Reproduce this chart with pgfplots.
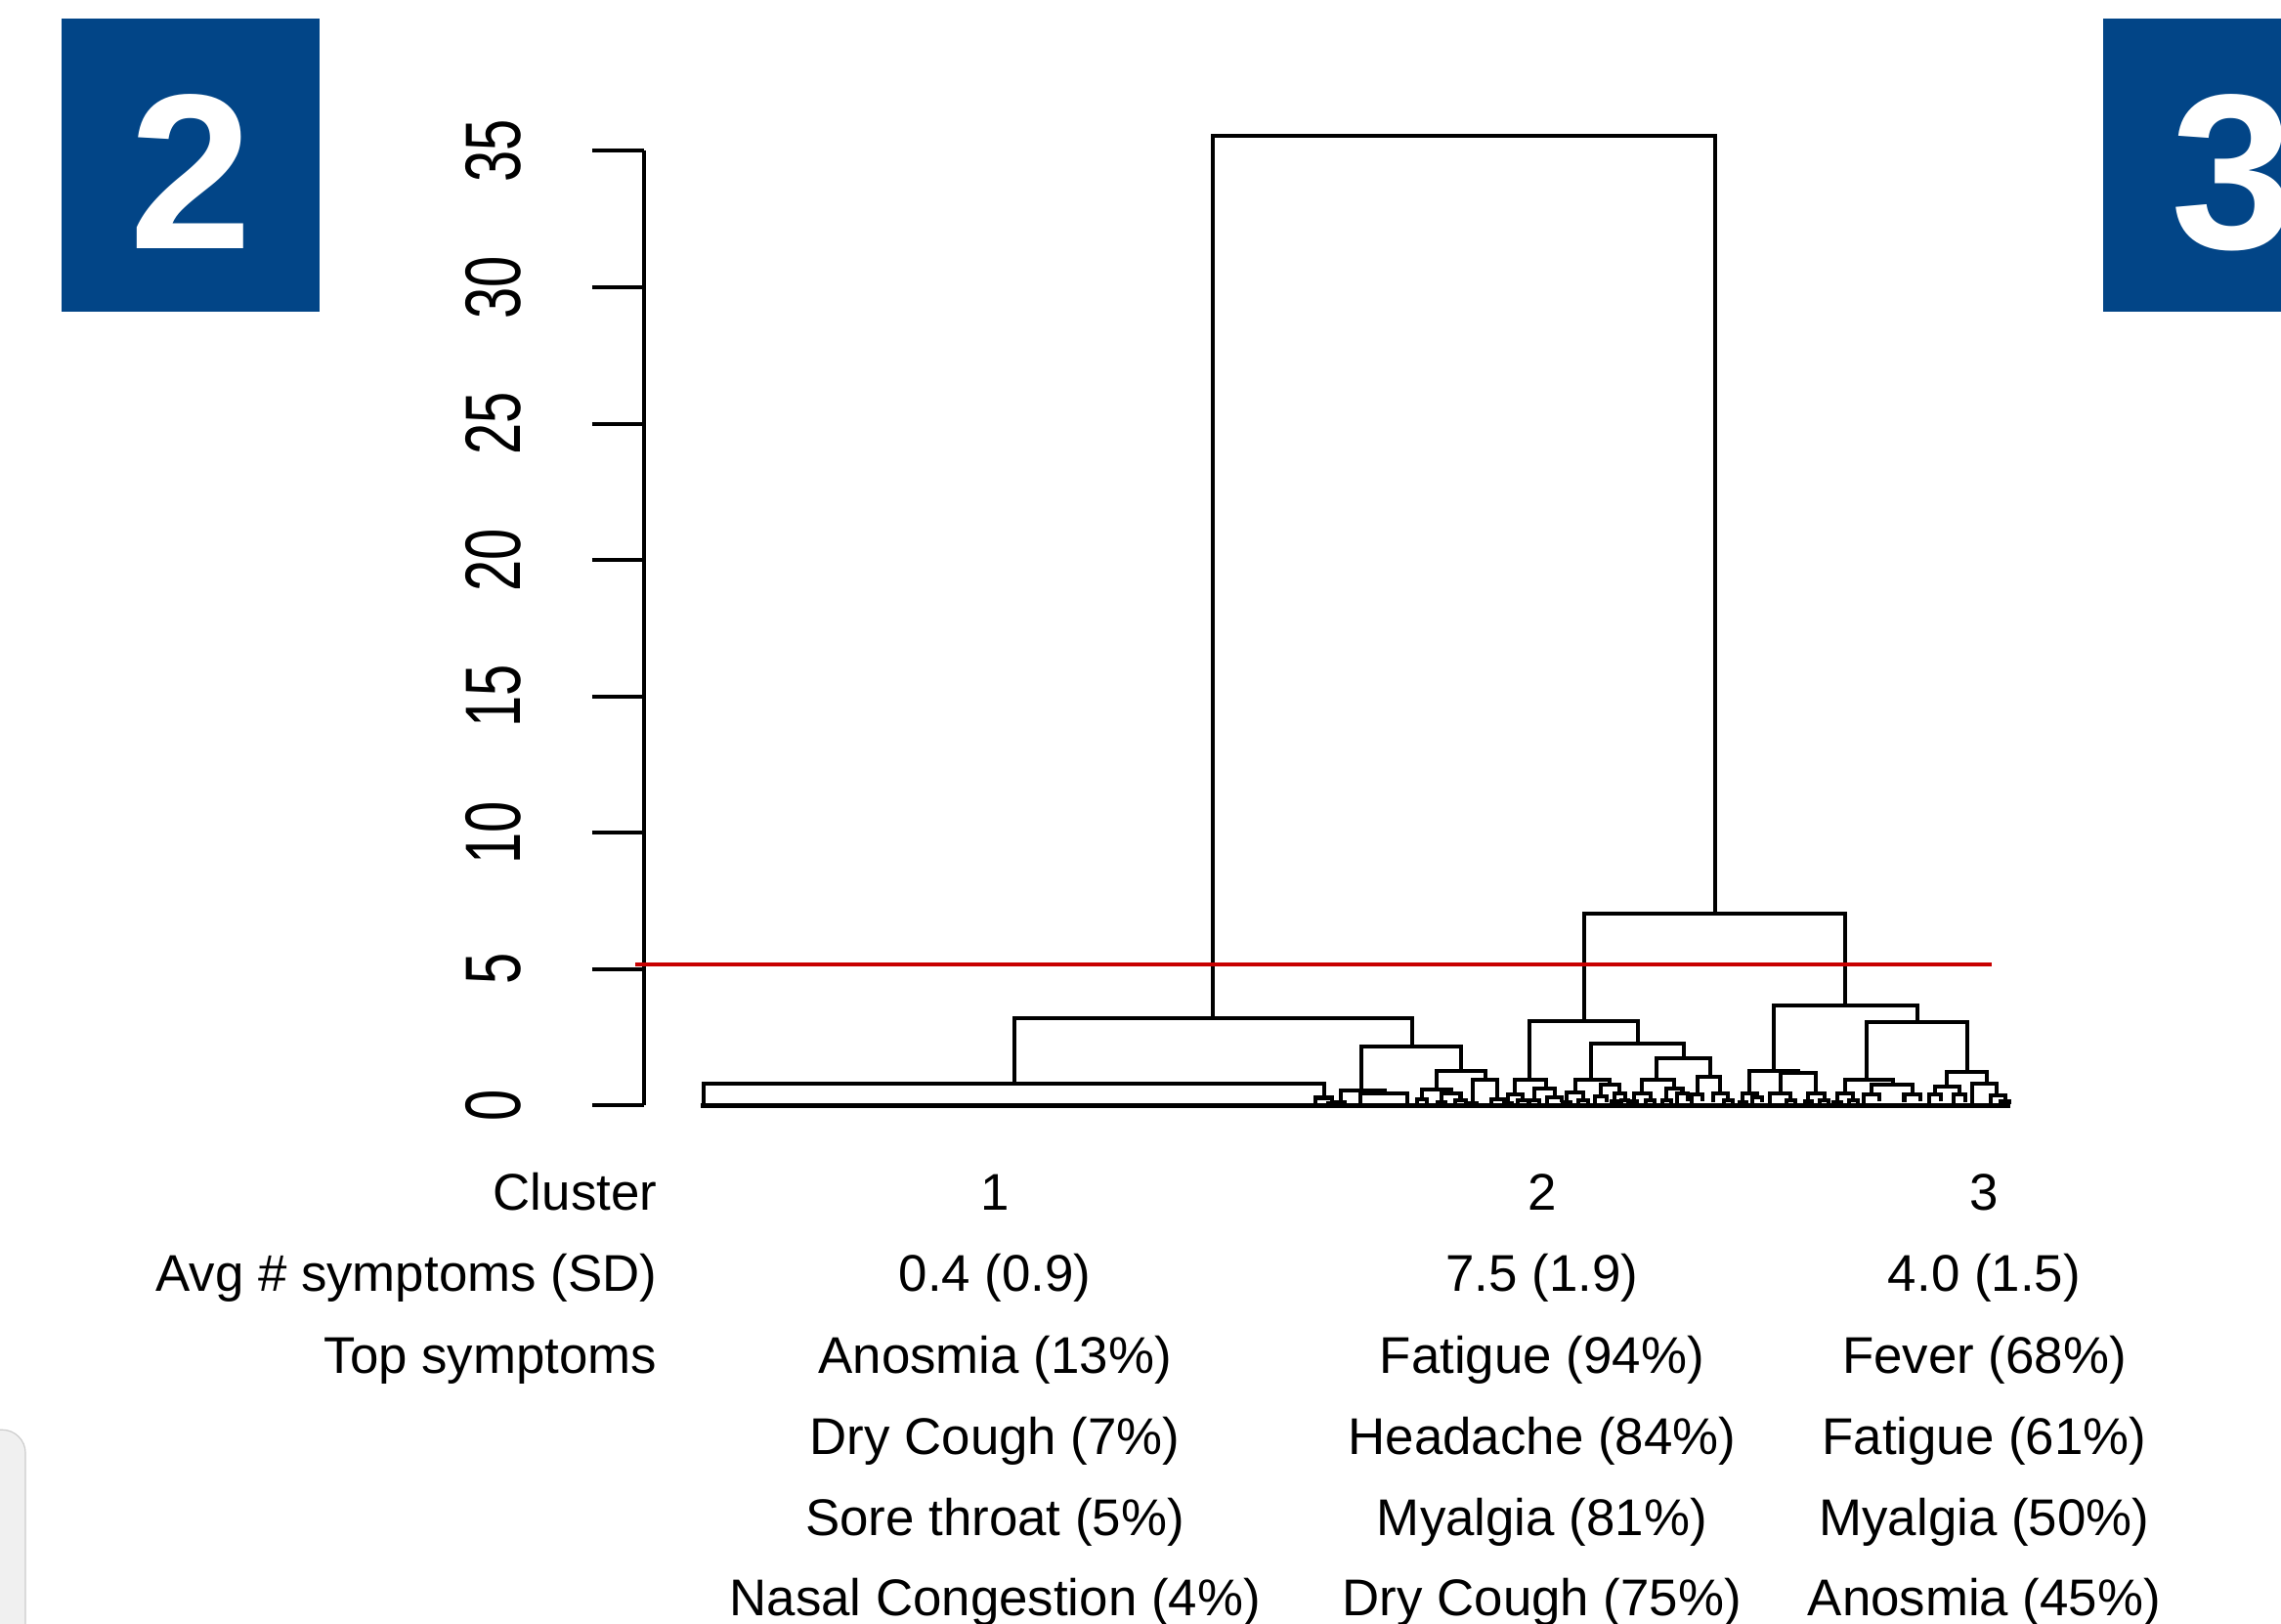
\documentclass[border=0pt]{standalone}
\usepackage{pgfplots}
\pgfplotsset{compat=1.18}
\usepackage{fontspec}
\setmainfont{Liberation Sans}
\newfontfamily\tickfont{Liberation Sans}[FakeStretch=0.72]
\definecolor{boxblue}{RGB}{2,69,135}
\definecolor{cutred}{RGB}{200,0,0}
\begin{document}
\begin{tikzpicture}
\useasboundingbox (0,0) rectangle (784pt,-558pt);
\begin{scope}[x=0.5pt,y=-0.5pt]
  % panel badges
  \fill[boxblue] (42,13) rectangle (220,214);
  \node[anchor=base,inner sep=0,text=white,font=\fontsize{76pt}{80pt}\selectfont\bfseries] at (131,171) {2};
  \fill[boxblue] (1446,13) rectangle (1600,214);
  \node[anchor=base west,inner sep=0,text=white,font=\fontsize{76pt}{80pt}\selectfont\bfseries] at (1492,171) {3};
  \draw[fill=black!6,draw=black!20,rounded corners=8pt] (-30,983) rectangle (17.5,1140);
\end{scope}
\begin{axis}[
  at={(221.5pt,-380pt)}, anchor=south west,
  scale only axis, width=478.5pt, height=328.125pt,
  xmin=443, xmax=1400, ymin=0, ymax=35,
  enlargelimits=false, clip=false,
  axis y line*=left, axis x line=none,
  ytick={0,5,...,35},
  tick align=outside, major tick length=18pt,
  y axis line style={line width=1.35pt,-},
  every tick/.style={line width=1.35pt,black},
  /pgf/number format/assume math mode=true,
  yticklabel style={rotate=90, anchor=base, inner sep=0pt, yshift=24.5pt,
    font=\tickfont\fontsize{27pt}{30pt}\selectfont},
]
\addplot[black, line width=1.35pt, unbounded coords=jump] table {
x y
834 3.2
834 35.57
1179 35.57
1179 7.04
nan nan
697 0.79
697 3.2
970.8 3.2
970.8 2.17
nan nan
484 0
484 0.79
910 0.79
910 0.28
nan nan
904.5 0.05
904.5 0.28
915.5 0.28
915.5 0.1
nan nan
913 0
913 0.1
918 0.1
918 0
nan nan
936 0.54
936 2.17
1004.6 2.17
1004.6 1.26
nan nan
921.5 0.12
921.5 0.54
952 0.54
952 0.43
nan nan
918.5 0
918.5 0.12
924.5 0.12
924.5 0.04
nan nan
935 0.03
935 0.43
967.4 0.43
967.4 0.03
nan nan
987.6 0.57
987.6 1.26
1021.1 1.26
1021.1 0.93
nan nan
977.4 0.22
977.4 0.57
997.5 0.57
997.5 0.45
nan nan
974 0.05
974 0.22
981 0.22
981 0.1
nan nan
991 0.12
991 0.45
1004 0.45
1004 0.2
nan nan
988.5 0
988.5 0.12
993.5 0.12
993.5 0
nan nan
1000 0.05
1000 0.2
1008 0.2
1008 0.08
nan nan
1012.2 0.1
1012.2 0.93
1029.5 0.93
1029.5 0.22
nan nan
1009.5 0
1009.5 0.1
1015 0.1
1015 0
nan nan
1025 0.05
1025 0.22
1034 0.22
1034 0.1
nan nan
1088.8 3.1
1088.8 7.04
1268.6 7.04
1268.6 3.68
nan nan
1051.4 0.93
1051.4 3.1
1126.2 3.1
1126.2 2.26
nan nan
1041.3 0.39
1041.3 0.93
1062.6 0.93
1062.6 0.63
nan nan
1036.8 0.1
1036.8 0.39
1046.9 0.39
1046.9 0.18
nan nan
1034.5 0
1034.5 0.1
1039 0.1
1039 0
nan nan
1043.5 0.04
1043.5 0.18
1050.5 0.18
1050.5 0.08
nan nan
1054.7 0.2
1054.7 0.63
1068.6 0.63
1068.6 0.3
nan nan
1051.5 0.03
1051.5 0.2
1058 0.2
1058 0.1
nan nan
1063.5 0.08
1063.5 0.3
1073.5 0.3
1073.5 0.12
nan nan
1094 0.93
1094 2.26
1157.7 2.26
1157.7 1.72
nan nan
1082.7 0.49
1082.7 0.93
1106.3 0.93
1106.3 0.75
nan nan
1077.1 0.12
1077.1 0.49
1088.2 0.49
1088.2 0.2
nan nan
1074.5 0
1074.5 0.12
1079.5 0.12
1079.5 0.04
nan nan
1085 0.05
1085 0.2
1091.5 0.2
1091.5 0.1
nan nan
1100.7 0.33
1100.7 0.75
1113 0.75
1113 0.45
nan nan
1096.5 0.1
1096.5 0.33
1104.5 0.33
1104.5 0.12
nan nan
1109.5 0.15
1109.5 0.45
1117 0.45
1117 0.2
nan nan
1107.5 0
1107.5 0.15
1111.5 0.15
1111.5 0.03
nan nan
1114.5 0.05
1114.5 0.2
1119.5 0.2
1119.5 0.08
nan nan
1138.7 0.93
1138.7 1.72
1175.7 1.72
1175.7 1.05
nan nan
1128.6 0.45
1128.6 0.93
1151 0.93
1151 0.63
nan nan
1123 0.15
1123 0.45
1134.5 0.45
1134.5 0.2
nan nan
1121 0.03
1121 0.15
1125 0.15
1125 0.05
nan nan
1131.5 0.05
1131.5 0.2
1137.5 0.2
1137.5 0.08
nan nan
1145.5 0.2
1145.5 0.63
1156.5 0.63
1156.5 0.45
nan nan
1142.5 0.04
1142.5 0.2
1148.5 0.2
1148.5 0.08
nan nan
1153 0.1
1153 0.45
1160.5 0.45
1160.5 0.15
nan nan
1166.7 0.39
1166.7 1.05
1182.4 1.05
1182.4 0.45
nan nan
1163 0.1
1163 0.39
1170.5 0.39
1170.5 0.15
nan nan
1177.5 0.12
1177.5 0.45
1188 0.45
1188 0.2
nan nan
1185 0.04
1185 0.2
1191 0.2
1191 0.08
nan nan
1219.3 1.27
1219.3 3.68
1317.9 3.68
1317.9 3.05
nan nan
1202.5 0.45
1202.5 1.27
1236.1 1.27
1236.1 1.19
nan nan
1198 0.12
1198 0.45
1208 0.45
1208 0.3
nan nan
1195.5 0
1195.5 0.12
1200.5 0.12
1200.5 0.04
nan nan
1204.5 0.08
1204.5 0.3
1211.5 0.3
1211.5 0.12
nan nan
1223.8 0.45
1223.8 1.19
1248.4 1.19
1248.4 0.45
nan nan
1216.5 0.1
1216.5 0.45
1231 0.45
1231 0.2
nan nan
1228 0.04
1228 0.2
1234 0.2
1234 0.08
nan nan
1243 0.15
1243 0.45
1254 0.45
1254 0.2
nan nan
1240.5 0.03
1240.5 0.15
1245.5 0.15
1245.5 0.05
nan nan
1251 0.05
1251 0.2
1257 0.2
1257 0.08
nan nan
1283.1 0.93
1283.1 3.05
1352.1 3.05
1352.1 1.23
nan nan
1268.6 0.45
1268.6 0.93
1301 0.93
1301 0.75
nan nan
1263 0.12
1263 0.45
1274 0.45
1274 0.2
nan nan
1260.5 0
1260.5 0.12
1265.5 0.12
1265.5 0.03
nan nan
1271 0.05
1271 0.2
1277 0.2
1277 0.08
nan nan
1286.5 0.39
1286.5 0.75
1314.5 0.75
1314.5 0.39
nan nan
1281 0.1
1281 0.39
1292 0.39
1292 0.15
nan nan
1309 0.12
1309 0.39
1320 0.39
1320 0.15
nan nan
1338 0.69
1338 1.23
1365.6 1.23
1365.6 0.81
nan nan
1330.2 0.39
1330.2 0.69
1347 0.69
1347 0.39
nan nan
1326 0.1
1326 0.39
1334.5 0.39
1334.5 0.15
nan nan
1343 0.1
1343 0.39
1351 0.39
1351 0.12
nan nan
1355.9 0.1
1355.9 0.81
1372.7 0.81
1372.7 0.37
nan nan
1368.3 0.1
1368.3 0.37
1378.3 0.37
1378.3 0.15
nan nan
1375.5 0.03
1375.5 0.15
1381.5 0.15
1381.5 0.05
};
% leaves at zero height
\addplot[black, line width=1.8pt] coordinates {(482,0) (1382,0)};
% cut line
\addplot[cutred, line width=1.3pt] coordinates {(437,5.17) (1369,5.17)};
\end{axis}
\begin{scope}[x=0.5pt,y=-0.5pt,every node/.style={inner sep=0pt,font=\fontsize{17.75pt}{21pt}\selectfont}]
  \node[anchor=base east] at (452,832) {Cluster};
  \node[anchor=base east] at (452,888) {Avg \# symptoms (SD)};
  \node[anchor=base east] at (452,944) {Top symptoms};
  \node[anchor=base] at (684,832) {1};
  \node[anchor=base] at (1060,832) {2};
  \node[anchor=base] at (1364,832) {3};
  \node[anchor=base] at (684,888) {0.4 (0.9)};
  \node[anchor=base] at (1060,888) {7.5 (1.9)};
  \node[anchor=base] at (1364,888) {4.0 (1.5)};
  \node[anchor=base] at (684,944) {Anosmia (13\%)};
  \node[anchor=base] at (1060,944) {Fatigue (94\%)};
  \node[anchor=base] at (1364,944) {Fever (68\%)};
  \node[anchor=base] at (684,1000) {Dry Cough (7\%)};
  \node[anchor=base] at (1060,1000) {Headache (84\%)};
  \node[anchor=base] at (1364,1000) {Fatigue (61\%)};
  \node[anchor=base] at (684,1056) {Sore throat (5\%)};
  \node[anchor=base] at (1060,1056) {Myalgia (81\%)};
  \node[anchor=base] at (1364,1056) {Myalgia (50\%)};
  \node[anchor=base] at (684,1111) {Nasal Congestion (4\%)};
  \node[anchor=base] at (1060,1111) {Dry Cough (75\%)};
  \node[anchor=base] at (1364,1111) {Anosmia (45\%)};
\end{scope}
\end{tikzpicture}
\end{document}
